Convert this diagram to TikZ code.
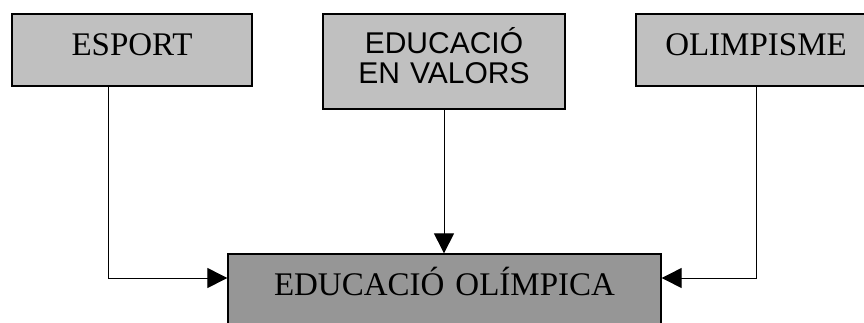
\documentclass[tikz,border=0pt]{standalone}
\usepackage{fontspec}
\setmainfont{Liberation Serif}
\newfontfamily\arialfont{Liberation Sans}
\usetikzlibrary{arrows.meta}
\definecolor{topgray}{HTML}{C0C0C0}
\definecolor{olimpgray}{HTML}{969696}
\tikzset{
    topic/.style={draw,line width=1.3pt,fill=topgray,inner sep=0pt,anchor=base,text width=240pt,align=center,font=\fontsize{33}{33}\selectfont},
    edge/.style={-{Triangle[length=20pt,width=20pt]},line width=1pt}
}
\begin{document}
\begin{tikzpicture} [x=1pt,y=-1pt]
\useasboundingbox (0,0) rectangle (864,322);
\clip (0,0) rectangle (864,322);
\node[topic,text height=41pt,text depth=31pt] (esport) at (132,55) {ESPORT};
\node[topic,text width=242pt,text height=39pt,text depth=56pt,font=\arialfont\fontsize{30}{30}\selectfont] (valors) at (444,53) {EDUCACIÓ\\EN VALORS};
\node[topic,text height=41pt,text depth=31pt] (olimpisme) at (756,55) {OLIMPISME};
\node[topic,fill=olimpgray,text width=433pt,text height=41pt,text depth=40pt] (olimpica) at (444.5,295) {EDUCACIÓ OLÍMPICA};

\coordinate (eout) at ([xshift=-24pt]esport.south);
\coordinate (lin) at (olimpica.west |- 0,278);
\coordinate (rin) at (olimpica.east |- 0,278);

\draw[edge] (eout) |- (lin);
\draw[edge] (valors.south) -- (valors.south |- olimpica.north);
\draw[edge] (olimpisme.south) |- (rin);

\end{tikzpicture}
\end{document}
